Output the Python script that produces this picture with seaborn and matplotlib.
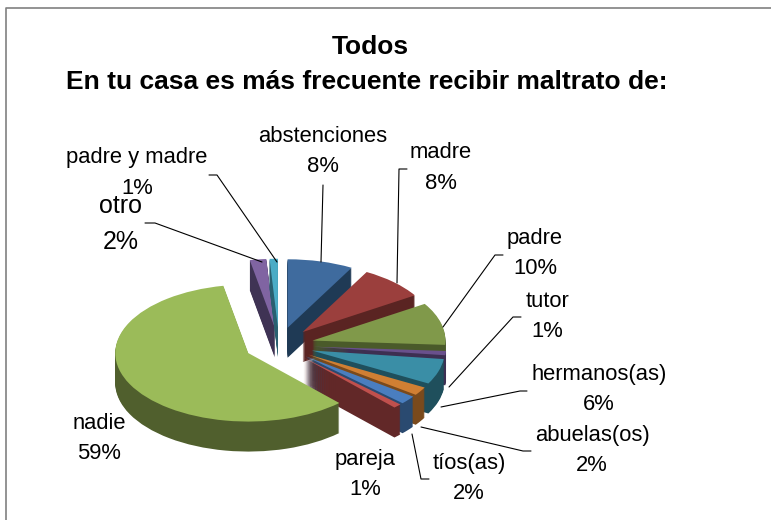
"""
Exploded pseudo-3D pie: En tu casa es mas frecuente recibir maltrato de.
"""

import matplotlib.pyplot as plt
import seaborn as sns

sns.set_theme(style="white", font="Liberation Sans")

labels = ["abstenciones", "madre", "padre", "tutor", "hermanos(as)", "abuelas(os)",
          "tíos(as)", "pareja", "nadie", "otro", "padre y madre"]
values = [8, 8, 10, 1, 6, 2, 2, 1, 59, 2, 1]
top_colors = ["#3F6B9E", "#9B3F3D", "#80994A", "#69508C", "#3A8EA6", "#D07F33",
              "#4A7EBF", "#C0504D", "#9BBB59", "#8064A2", "#4BACC6"]
side_colors = ["#1F3A55", "#5A2422", "#4A5A2A", "#3D2F52", "#1F4F5C", "#7A4A1C",
               "#2A4A70", "#622828", "#505F2D", "#3F3354", "#2A6070"]
# back to front
draw_order = [9, 10, 0, 1, 2, 3, 4, 5, 6, 7, 8]

W, H = 771, 520
SQUASH = 0.515
RADIUS = 133
CX, CY = 279, 345
DEPTH = 30
EXPLODE = 34.5  # pie() takes this in data units here


def to_y(py):
  return (H - py) / SQUASH


fig, ax = plt.subplots(figsize=(W / 100, H / 100), dpi=100)
fig.subplots_adjust(0, 0, 1, 1)

rank = {s: r for r, s in enumerate(draw_order)}
for d in range(DEPTH, -1, -1):
  wedges, _ = ax.pie(
      values,
      colors=top_colors if d == 0 else side_colors,
      explode=[EXPLODE] * len(values),
      radius=RADIUS,
      center=(CX, to_y(CY + d)),
      startangle=90,
      counterclock=False,
      wedgeprops={"linewidth": 0},
  )
  for i, w in enumerate(wedges):
    w.set_zorder(2 + rank[i] + (DEPTH - d) / (DEPTH + 1))

ax.set_aspect("auto")
ax.set_xlim(0, W)
ax.set_ylim(0, H / SQUASH)
ax.axis("off")

# leader lines, pixel positions
leaders = [
    [(321, 262), (323, 185)],
    [(397, 283), (399, 169), (407, 169)],
    [(443, 327), (495, 255), (503, 255)],
    [(449, 387), (513, 317), (521, 317)],
    [(441, 407), (520, 391), (527, 391)],
    [(421, 427), (523, 451), (531, 451)],
    [(412, 434), (421, 479), (429, 479)],
    [(262, 262), (155, 223), (145, 223)],
    [(277, 262), (217, 175), (209, 175)],
]
for line in leaders:
  ax.plot([p[0] for p in line], [to_y(p[1]) for p in line],
          color="black", lw=0.8, zorder=20, clip_on=False)

label_pos = [(323, 151.5), (441, 168), (535, 253.5), (547, 316.5), (599, 389.5), (592, 450.5),
             (469, 478.5), (365, 474.5), (99, 438.5), (121, 224), (137, 173)]
for i, (px, py) in enumerate(label_pos):
  size = 18 if labels[i] == "otro" else 15.8
  ax.text(px, to_y(py), f"{labels[i]}\n{values[i]}%", ha="center", va="center",
          fontsize=size, color="black", zorder=21, linespacing=1.6)

fig.text(370 / W, 1 - 46.5 / H, "Todos", ha="center", va="center",
         fontsize=19, fontweight="bold", color="black")
fig.text(367 / W, 1 - 82 / H, "En tu casa es más frecuente recibir maltrato de:",
         ha="center", va="center", fontsize=19, fontweight="bold", color="black")

# chart frame
ax.plot([5.5, 5.5, W], [to_y(H), to_y(7.5), to_y(7.5)], color="#808080", lw=1.2,
        zorder=22, clip_on=False)

fig.savefig("out.png", dpi=100)
